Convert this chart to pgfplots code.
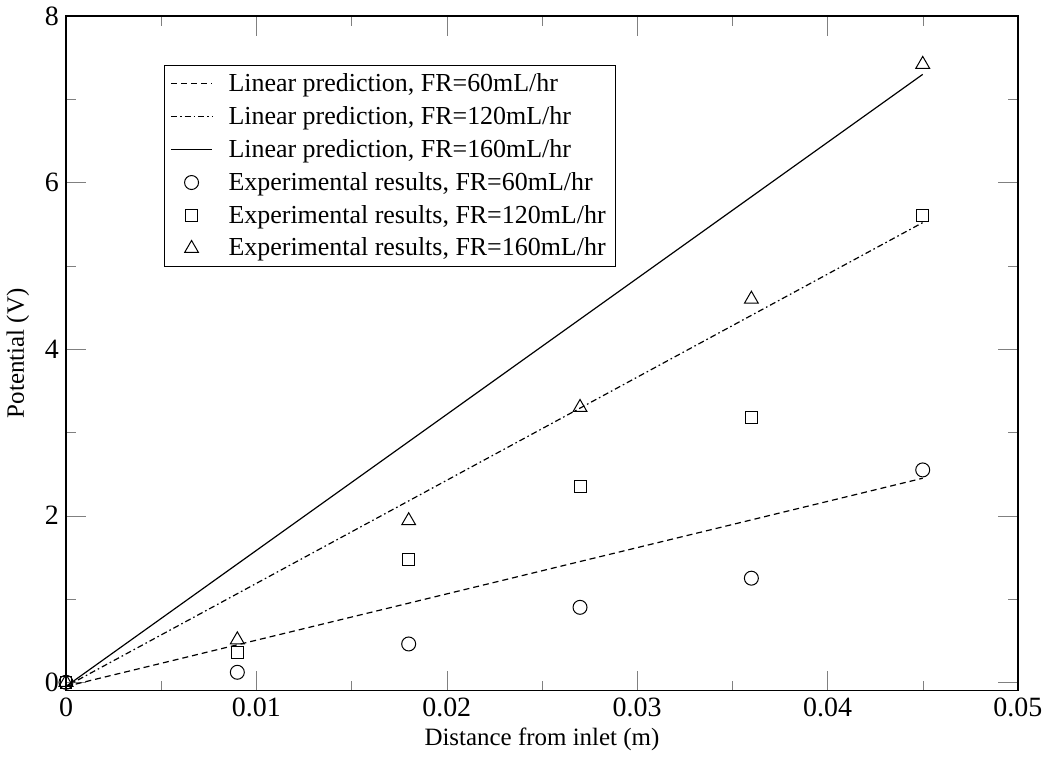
\documentclass[border=0pt]{standalone}
\usepackage{fontspec}
\setmainfont{Liberation Serif}
\usepackage{pgfplots}
\pgfplotsset{compat=1.18}
\begin{document}
\begin{tikzpicture}
\begin{axis}[
  scale only axis, width=477pt, height=338pt,
  xmin=0, xmax=0.05, ymin=-0.1, ymax=8,
  xtick={0,0.01,0.02,0.03,0.04,0.05}, ytick={0,2,4,6,8},
  minor x tick num=1, minor y tick num=1,
  tick align=inside, major tick length=10pt, minor tick length=5pt,
  scaled x ticks=false,
  xticklabel style={/pgf/number format/fixed, /pgf/number format/precision=2},
  /pgf/number format/assume math mode=true,
  tick label style={font=\fontsize{14}{16}\selectfont},
  label style={font=\fontsize{12.5}{14}\selectfont},
  xlabel={Distance from inlet (m)}, ylabel={Potential (V)},
  xlabel style={yshift=1pt}, ylabel style={yshift=1pt},
  axis line style={line width=0.8pt},
  legend cell align=left,
  legend image code/.code={\draw[mark repeat=2,mark phase=2] plot coordinates {(0cm,0cm) (0.36cm,0cm) (0.72cm,0cm)};},
  legend style={at={(axis description cs:0.103,0.928)}, anchor=north west,
    draw=black, line width=0.5pt, font=\fontsize{13}{15}\selectfont,
    row sep=2pt, inner xsep=3pt, inner ysep=2pt,
    /tikz/every odd column/.style={column sep=6pt}},
]
\addplot[black, line width=0.6pt, densely dashed] coordinates {(0,-0.05) (0.045,2.45)};
\addlegendentry{Linear prediction, FR=60mL/hr}
\addplot[black, line width=0.6pt, dash pattern=on 3pt off 1.5pt on 0.8pt off 1.5pt] coordinates {(0,-0.05) (0.045,5.52)};
\addlegendentry{Linear prediction, FR=120mL/hr}
\addplot[black, line width=0.6pt] coordinates {(0,-0.05) (0.045,7.30)};
\addlegendentry{Linear prediction, FR=160mL/hr}
\addplot[only marks, mark=o, mark size=3.5pt, black, line width=0.5pt] coordinates {
  (0,0) (0.009,0.12) (0.018,0.46) (0.027,0.90) (0.036,1.25) (0.045,2.55)};
\addlegendentry{Experimental results, FR=60mL/hr}
\addplot[only marks, mark=square, mark size=3pt, black, line width=0.5pt] coordinates {
  (0,0) (0.009,0.36) (0.018,1.47) (0.027,2.35) (0.036,3.18) (0.045,5.60)};
\addlegendentry{Experimental results, FR=120mL/hr}
\addplot[only marks, mark=triangle, mark size=4pt, black, line width=0.5pt] coordinates {
  (0,0) (0.009,0.51) (0.018,1.94) (0.027,3.30) (0.036,4.60) (0.045,7.42)};
\addlegendentry{Experimental results, FR=160mL/hr}
\end{axis}
\end{tikzpicture}
\end{document}
